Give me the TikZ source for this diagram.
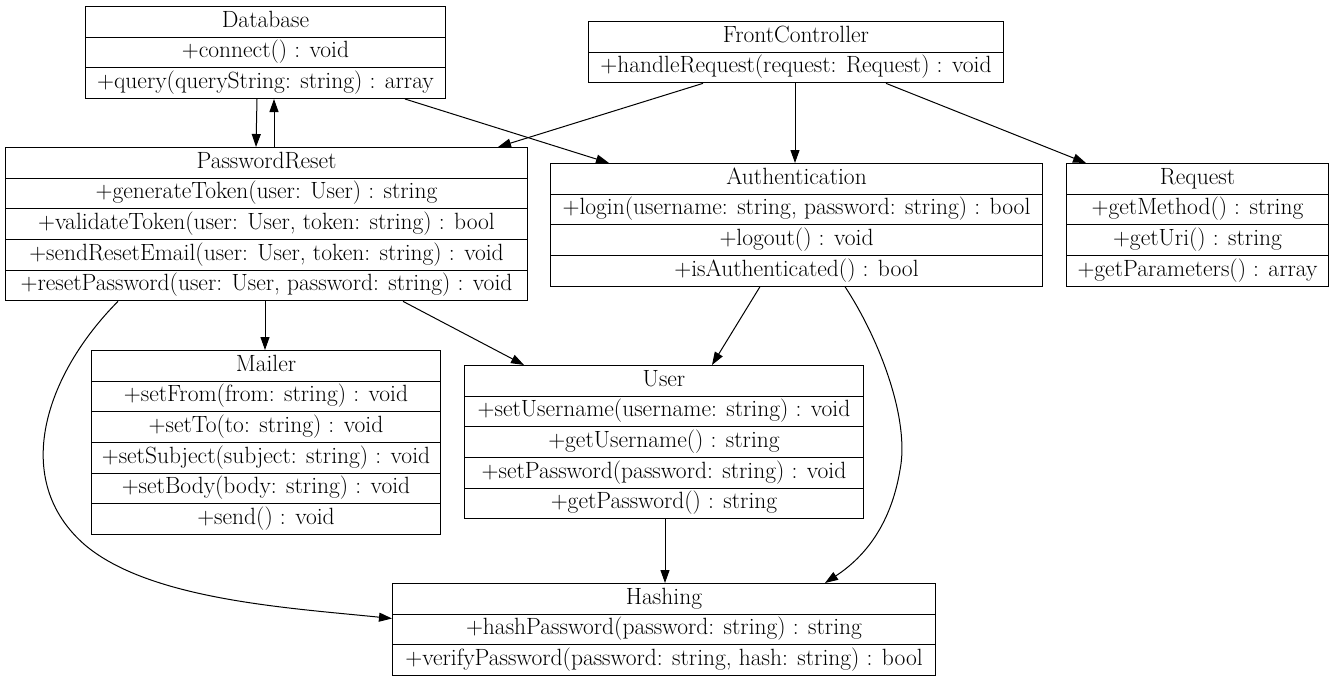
\documentclass[tikz,border=0pt]{standalone}
\usepackage{tikz}
\usetikzlibrary{arrows.meta}

\tikzset{
    classrow/.style={draw, line width=1pt, anchor=north west, inner sep=0pt,
        minimum height=30.67pt, text height=16pt, text depth=5.5pt,
        font=\fontsize{23.5}{28}\selectfont},
    link/.style={line width=1pt, -{Triangle[length=13pt, width=9pt]}}
}
% name, x, y (top left), width, rows
\newcommand{\umlclass}[5]{
    \foreach \txt [count=\i] in {#5} {
        \node[classrow, minimum width=#4pt] (#1-\i) at (#2, {#3+(\i-1)*30.67}) {\txt};
    }
}

\begin{document}
\begin{tikzpicture}[x=1pt, y=-1pt]

    \useasboundingbox (0,0) rectangle (1334,681);

    \umlclass{db}{85}{6}{360}{Database, +connect() : void, +query(queryString: string) : array}
    \umlclass{fc}{588}{21}{415}{FrontController, +handleRequest(request: Request) : void}
    \umlclass{pr}{5}{147}{522}{PasswordReset, +generateToken(user: User) : string,
        {+validateToken(user: User, token: string) : bool},
        {+sendResetEmail(user: User, token: string) : void},
        {+resetPassword(user: User, password: string) : void}}
    \umlclass{auth}{550}{163}{492}{Authentication,
        {+login(username: string, password: string) : bool},
        +logout() : void, +isAuthenticated() : bool}
    \umlclass{req}{1066}{163}{262}{Request, +getMethod() : string, +getUri() : string,
        +getParameters() : array}
    \umlclass{mail}{91}{350}{349}{Mailer, +setFrom(from: string) : void, +setTo(to: string) : void,
        +setSubject(subject: string) : void, +setBody(body: string) : void, +send() : void}
    \umlclass{user}{464}{365}{399}{User, +setUsername(username: string) : void,
        +getUsername() : string, +setPassword(password: string) : void, +getPassword() : string}
    \umlclass{hash}{392}{583}{543}{Hashing, +hashPassword(password: string) : string,
        {+verifyPassword(password: string, hash: string) : bool}}

    \draw[link] (257,0 |- db-3.south) -- (256,0 |- pr-1.north);
    \draw[link] (274,0 |- pr-1.north) -- (274,0 |- db-3.south);
    \draw[link] (405,0 |- db-3.south) -- (609,0 |- auth-1.north);
    \draw[link] (703,0 |- fc-2.south) -- (498,0 |- pr-1.north);
    \draw[link] (795,0 |- fc-2.south) -- (795,0 |- auth-1.north);
    \draw[link] (886,0 |- fc-2.south) -- (1086,0 |- req-1.north);
    \draw[link] (265,0 |- pr-5.south) -- (265,0 |- mail-1.north);
    \draw[link] (403,0 |- pr-5.south) -- (524,0 |- user-1.north);
    \draw[link] (118,0 |- pr-5.south) .. controls (45,375) and (10,480) .. (85,545)
        .. controls (150,600) and (290,608) .. ([yshift=11pt]hash-2.west);
    \draw[link] (760,0 |- auth-4.south) -- (712,0 |- user-1.north);
    \draw[link] (845,0 |- auth-4.south) .. controls (880,340) and (910,420) .. (900,470)
        .. controls (890,530) and (860,560) .. (825,0 |- hash-1.north);
    \draw[link] (665,0 |- user-5.south) -- (665,0 |- hash-1.north);

\end{tikzpicture}
\end{document}
